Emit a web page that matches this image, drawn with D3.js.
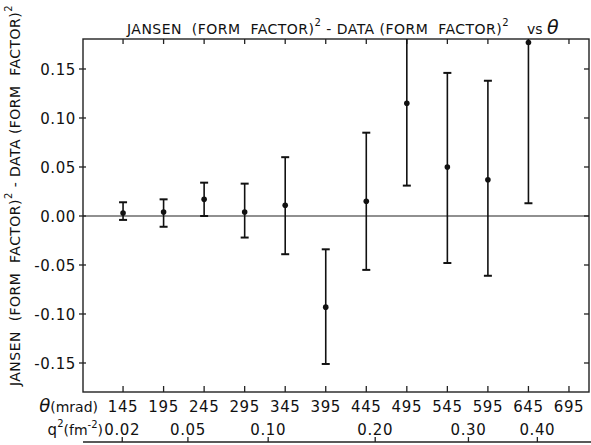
<!DOCTYPE html>
<html>
<head>
<meta charset="utf-8">
<script src="https://cdn.jsdelivr.net/npm/d3@7"></script>
<style>
  body { margin: 0; background: #fff; }
  svg { display: block; }
  text { font-family: "DejaVu Sans", sans-serif; fill: #111; white-space: pre; }
</style>
</head>
<body>
<div id="chart"></div>
<script>
const width = 591;
const height = 445;

// scattering angle (mrad) of each point, and tick labels
const thetas = [145, 195, 245, 295, 345, 395, 445, 495, 545, 595, 645];
const thetaTicks = [145, 195, 245, 295, 345, 395, 445, 495, 545, 595, 645, 695];
// Jansen (FF)^2 - data (FF)^2, with upper / lower ends of the error bars
const diffs = [0.003, 0.004, 0.017, 0.004, 0.011, -0.093, 0.015, 0.115, 0.050, 0.037, 0.177];
const upper = [0.014, 0.017, 0.034, 0.033, 0.060, -0.034, 0.085, 0.20, 0.146, 0.138, 0.20];
const lower = [-0.004, -0.011, 0.000, -0.022, -0.039, -0.151, -0.055, 0.031, -0.048, -0.061, 0.013];
const yTicks = [-0.15, -0.10, -0.05, 0.00, 0.05, 0.10, 0.15];
// q^2 scale underneath, placed at the matching angle
const qLabels = ["0.02", "0.05", "0.10", "0.20", "0.30", "0.40"];
const qTheta = [144, 225, 324, 456, 571, 656];

const pLeft = 83, pRight = 589, pTop = 39, pBottom = 392;

const svg = d3.select("#chart").append("svg")
    .attr("width", width)
    .attr("height", height);

const x = d3.scaleLinear().domain([95.6, 719.7]).range([pLeft, pRight]);
const y = d3.scaleLinear().domain([-0.1796, 0.1806]).range([pBottom, pTop]);

svg.append("defs").append("clipPath").attr("id", "plot")
    .append("rect")
    .attr("x", pLeft).attr("y", pTop)
    .attr("width", pRight - pLeft).attr("height", pBottom - pTop);

// frame
svg.append("rect")
    .attr("x", pLeft).attr("y", pTop)
    .attr("width", pRight - pLeft).attr("height", pBottom - pTop)
    .attr("fill", "none")
    .attr("stroke", "#222")
    .attr("stroke-width", 1.4);

// zero line
svg.append("line")
    .attr("x1", pLeft).attr("x2", pRight)
    .attr("y1", y(0)).attr("y2", y(0))
    .attr("stroke", "#222")
    .attr("stroke-width", 1.2);

// ticks on the frame
const tickStyle = sel => sel.attr("stroke", "#222").attr("stroke-width", 1.3);

svg.append("g").selectAll("line")
    .data(thetaTicks)
    .join("line")
    .attr("x1", d => x(d)).attr("x2", d => x(d))
    .attr("y1", pTop).attr("y2", pTop + 5)
    .call(tickStyle);

svg.append("g").selectAll("line")
    .data(thetaTicks)
    .join("line")
    .attr("x1", d => x(d)).attr("x2", d => x(d))
    .attr("y1", pBottom).attr("y2", pBottom - 6)
    .call(tickStyle);

svg.append("g").selectAll("line")
    .data(yTicks)
    .join("line")
    .attr("x1", pLeft - 4).attr("x2", pLeft + 3)
    .attr("y1", d => y(d)).attr("y2", d => y(d))
    .call(tickStyle);

svg.append("g").selectAll("line")
    .data(yTicks)
    .join("line")
    .attr("x1", pRight - 5).attr("x2", pRight)
    .attr("y1", d => y(d)).attr("y2", d => y(d))
    .call(tickStyle);

// y tick labels
svg.append("g").selectAll("text")
    .data(yTicks)
    .join("text")
    .attr("x", 76)
    .attr("y", d => y(d) + 6)
    .attr("text-anchor", "end")
    .attr("font-size", 15)
    .attr("letter-spacing", 0.6)
    .text(d => d3.format(".2f")(d).replace("−", "-"));

// theta labels
svg.append("g").selectAll("text")
    .data(thetaTicks)
    .join("text")
    .attr("x", d => x(d))
    .attr("y", 412)
    .attr("text-anchor", "middle")
    .attr("font-size", 15)
    .attr("letter-spacing", 0.6)
    .text(d => d);

const thLab = svg.append("text")
    .attr("x", 98).attr("y", 412)
    .attr("text-anchor", "end")
    .attr("font-size", 14);
thLab.append("tspan").attr("font-style", "italic").attr("font-size", 18).text("θ");
thLab.append("tspan").text("(mrad)");

// q^2 axis
svg.append("line")
    .attr("x1", pLeft).attr("x2", width)
    .attr("y1", 442).attr("y2", 442)
    .attr("stroke", "#222")
    .attr("stroke-width", 1.4);

svg.append("g").selectAll("line")
    .data(qTheta)
    .join("line")
    .attr("x1", d => x(d)).attr("x2", d => x(d))
    .attr("y1", 442).attr("y2", 437)
    .call(tickStyle);

svg.append("g").selectAll("text")
    .data(qLabels)
    .join("text")
    .attr("x", (d, i) => x(qTheta[i]))
    .attr("y", 435)
    .attr("text-anchor", "middle")
    .attr("font-size", 15)
    .attr("letter-spacing", 0.6)
    .text(d => d);

const qLab = svg.append("text")
    .attr("x", 103).attr("y", 435)
    .attr("text-anchor", "end")
    .attr("font-size", 14);
qLab.append("tspan").attr("font-size", 15).text("q");
qLab.append("tspan").attr("font-size", 10).attr("dy", -8).text("2");
qLab.append("tspan").attr("dy", 8).text("(fm");
qLab.append("tspan").attr("font-size", 10).attr("dy", -7).text("-2");
qLab.append("tspan").attr("dy", 7).text(")");

// error bars and points
const plot = svg.append("g").attr("clip-path", "url(#plot)");
const pts = thetas.map((t, i) => ({ t, v: diffs[i], hi: upper[i], lo: lower[i] }));

plot.selectAll(".bar")
    .data(pts)
    .join("line")
    .attr("class", "bar")
    .attr("x1", d => x(d.t)).attr("x2", d => x(d.t))
    .attr("y1", d => y(d.hi)).attr("y2", d => y(d.lo))
    .attr("stroke", "#111")
    .attr("stroke-width", 1.6);

plot.selectAll(".capHi")
    .data(pts)
    .join("line")
    .attr("class", "capHi")
    .attr("x1", d => x(d.t) - 4).attr("x2", d => x(d.t) + 4)
    .attr("y1", d => y(d.hi)).attr("y2", d => y(d.hi))
    .attr("stroke", "#111")
    .attr("stroke-width", 2);

plot.selectAll(".capLo")
    .data(pts)
    .join("line")
    .attr("class", "capLo")
    .attr("x1", d => x(d.t) - 4).attr("x2", d => x(d.t) + 4)
    .attr("y1", d => y(d.lo)).attr("y2", d => y(d.lo))
    .attr("stroke", "#111")
    .attr("stroke-width", 2);

plot.selectAll("circle")
    .data(pts)
    .join("circle")
    .attr("cx", d => x(d.t))
    .attr("cy", d => y(d.v))
    .attr("r", 2.8)
    .attr("fill", "#111");

// stretch a label's letter spacing so it covers a given length
function fitLabel(t, target) {
    const n = t.text().length;
    const w = t.node().getComputedTextLength();
    t.attr("letter-spacing", Math.max(0, (target - w) / n));
}

function addLabel(t) {
    t.append("tspan").text("JANSEN  (FORM  FACTOR)");
    t.append("tspan").attr("font-size", 10).attr("dy", -8).text("2");
    t.append("tspan").attr("dy", 8).text(" - DATA (FORM  FACTOR)");
    t.append("tspan").attr("font-size", 10).attr("dy", -8).text("2");
}

// title
const title = svg.append("text")
    .attr("x", 127).attr("y", 34)
    .attr("font-size", 14);
addLabel(title);
fitLabel(title, 382);

const vs = svg.append("text")
    .attr("x", 527).attr("y", 34)
    .attr("font-size", 14);
vs.append("tspan").text("vs ");
vs.append("tspan").attr("font-style", "italic").attr("font-size", 19).text("θ");

// y axis label
const yLab = svg.append("text")
    .attr("transform", "translate(20,386) rotate(-90)")
    .attr("font-size", 14);
addLabel(yLab);
fitLabel(yLab, 381);
</script>
</body>
</html>
